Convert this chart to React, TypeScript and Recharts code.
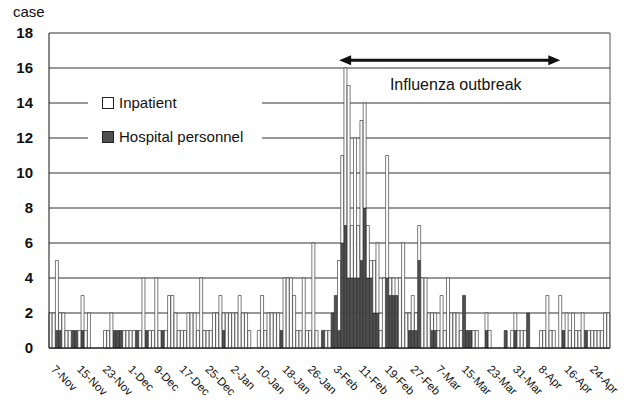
import React from 'react'
import { Bar, BarChart, CartesianGrid, ReferenceLine, XAxis, YAxis } from 'recharts'

// daily categories, 7 Nov to 30 Apr
const MONTHS: [string, number, number][] = [
  ['Nov', 7, 30],
  ['Dec', 1, 31],
  ['Jan', 1, 31],
  ['Feb', 1, 28],
  ['Mar', 1, 31],
  ['Apr', 1, 30],
]
const DAYS: string[] = MONTHS.flatMap(([m, from, to]) =>
  Array.from({ length: to - from + 1 }, (_, k) => `${from + k}-${m}`),
)

const TICK_LABELS = [
  '7-Nov', '15-Nov', '23-Nov', '1-Dec', '9-Dec', '17-Dec', '25-Dec', '2-Jan', '10-Jan', '18-Jan', '26-Jan',
  '3-Feb', '11-Feb', '19-Feb', '27-Feb', '7-Mar', '15-Mar', '23-Mar', '31-Mar', '8-Apr', '16-Apr', '24-Apr',
]
const Y_TICKS = [0, 2, 4, 6, 8, 10, 12, 14, 16, 18]

// hospital personnel cases per day (dark, bottom of stack)
const PERSONNEL = [
  // Nov
  0, 0, 1, 1, 0, 0, 0, 1, 1, 0, 1, 0, 0, 0, 0, 0, 0, 0, 0, 0, 1, 1, 1, 0,
  // Dec
  0, 0, 0, 1, 0, 0, 1, 0, 0, 0, 0, 1, 0, 0, 0, 0, 0, 0, 0, 0, 0, 0, 0, 0, 0, 0, 0, 0, 0, 0, 1,
  // Jan
  0, 0, 0, 0, 0, 0, 0, 0, 0, 0, 0, 0, 0, 0, 0, 0, 0, 1, 0, 0, 0, 0, 0, 0, 0, 0, 0, 0, 0, 0, 1,
  // Feb
  0, 0, 2, 3, 1, 6, 7, 4, 4, 4, 4, 5, 8, 4, 4, 2, 2, 0, 0, 4, 3, 3, 3, 0, 0, 0, 1, 1,
  // Mar
  1, 5, 0, 0, 0, 1, 1, 0, 0, 0, 0, 0, 0, 0, 0, 3, 1, 1, 0, 0, 0, 0, 1, 0, 0, 0, 0, 0, 1, 0, 0,
  // Apr
  1, 0, 0, 0, 2, 0, 0, 0, 0, 0, 0, 0, 0, 0, 0, 1, 0, 0, 0, 0, 0, 0, 1, 0, 0, 0, 0, 0, 0, 0,
]

// inpatient cases per day (white, top of stack)
const INPATIENT = [
  // Nov
  2, 2, 4, 1, 2, 1, 1, 0, 0, 1, 2, 1, 2, 0, 0, 0, 0, 1, 1, 2, 0, 0, 0, 1,
  // Dec
  1, 1, 1, 0, 1, 4, 0, 1, 1, 4, 1, 0, 1, 3, 3, 2, 1, 1, 1, 2, 2, 2, 1, 4, 1, 1, 1, 2, 2, 3, 1,
  // Jan
  2, 2, 2, 2, 3, 2, 2, 1, 0, 0, 1, 3, 1, 2, 2, 2, 2, 0, 4, 4, 4, 3, 1, 1, 4, 1, 1, 6, 1, 0, 0,
  // Feb
  1, 1, 0, 0, 4, 5, 9, 11, 3, 8, 3, 8, 6, 3, 1, 3, 4, 1, 4, 7, 1, 1, 0, 4, 6, 2, 1, 2,
  // Mar
  1, 2, 4, 4, 2, 1, 1, 1, 3, 1, 4, 2, 2, 2, 1, 0, 0, 0, 1, 1, 0, 0, 1, 1, 0, 0, 0, 0, 0, 0, 1,
  // Apr
  1, 1, 1, 1, 0, 0, 0, 0, 1, 1, 3, 1, 1, 0, 3, 0, 2, 1, 2, 1, 1, 2, 0, 1, 1, 1, 1, 1, 2, 2,
]

const OUTBREAK_FROM = '5-Feb'
const OUTBREAK_TO = '15-Apr'

const data = DAYS.map((date, i) => ({ date, personnel: PERSONNEL[i], inpatient: INPATIENT[i] }))

const FONT = '"Liberation Sans", Arial, sans-serif'
const DARK = '#505050'

const DateTick = ({ x, y, payload }: any) => (
  <text
    x={0}
    y={0}
    transform={`translate(${x},${y + 22}) rotate(45)`}
    fontSize={11.5}
    fontFamily={FONT}
    fill="#111"
  >
    {payload.value}
  </text>
)

// double-headed arrow with its caption
const OutbreakArrow = (p: any) => {
  const { x1, y1, x2, y2 } = p
  if (x1 == null) return null
  const h = 12
  const w = 5
  return (
    <g>
      <line x1={x1 + h - 1} y1={y1} x2={x2 - h + 1} y2={y2} stroke="#111" strokeWidth={3} />
      <polygon points={`${x1},${y1} ${x1 + h},${y1 - w} ${x1 + h},${y1 + w}`} fill="#111" />
      <polygon points={`${x2},${y2} ${x2 - h},${y2 - w} ${x2 - h},${y2 + w}`} fill="#111" />
      <text x={(x1 + x2) / 2 + 6} y={y1 + 30} textAnchor="middle" fontSize={16} fontFamily={FONT} fill="#111">
        Influenza outbreak
      </text>
    </g>
  )
}

const Swatch = ({ dark }: { dark: boolean }) => (
  <span
    style={{
      position: 'absolute',
      left: 0,
      top: 3,
      width: 10,
      height: 10,
      border: '1px solid #222',
      background: dark ? DARK : '#fff',
    }}
  />
)

export default function App() {
  return (
    <div style={{ position: 'absolute', left: 0, top: 0, width: 635, height: 402, background: '#fff', fontFamily: FONT }}>
      <BarChart
        width={635}
        height={402}
        data={data}
        margin={{ top: 33, right: 24, left: 0, bottom: 0 }}
        barCategoryGap={0}
      >
        <CartesianGrid vertical={false} stroke="#333" strokeWidth={1} />
        <XAxis
          dataKey="date"
          ticks={TICK_LABELS}
          interval={0}
          tickLine={false}
          tickSize={0}
          tickMargin={0}
          height={54}
          axisLine={{ stroke: '#111' }}
          tick={<DateTick />}
        />
        <YAxis
          domain={[0, 18]}
          ticks={Y_TICKS}
          width={49}
          tickLine={false}
          tickSize={8}
          tickMargin={8}
          axisLine={{ stroke: '#111' }}
          tick={{ fontSize: 15, fontWeight: 'bold', fill: '#111', fontFamily: FONT }}
        />
        <YAxis yAxisId="right" orientation="right" domain={[0, 18]} width={1} tick={false} tickLine={false} axisLine={{ stroke: '#555' }} />
        <Bar dataKey="personnel" stackId="a" fill={DARK} stroke="#222" strokeWidth={0.6} isAnimationActive={false} />
        <Bar dataKey="inpatient" stackId="a" fill="#fff" stroke="#222" strokeWidth={0.6} isAnimationActive={false} />
        <ReferenceLine
          segment={[
            { x: OUTBREAK_FROM, y: 16.45 },
            { x: OUTBREAK_TO, y: 16.45 },
          ]}
          shape={OutbreakArrow}
        />
      </BarChart>

      <div style={{ position: 'absolute', left: 13, top: 3, fontSize: 15, lineHeight: '17px', color: '#111' }}>case</div>

      <div style={{ position: 'absolute', left: 88, top: 88, width: 174, height: 64, background: '#fff' }}>
        <div style={{ position: 'absolute', left: 14, top: 6, fontSize: 15, lineHeight: '17px', paddingLeft: 17, color: '#111' }}>
          <Swatch dark={false} />
          Inpatient
        </div>
        <div style={{ position: 'absolute', left: 14, top: 40, fontSize: 15, lineHeight: '17px', paddingLeft: 17, color: '#111', whiteSpace: 'nowrap' }}>
          <Swatch dark />
          Hospital personnel
        </div>
      </div>
    </div>
  )
}
